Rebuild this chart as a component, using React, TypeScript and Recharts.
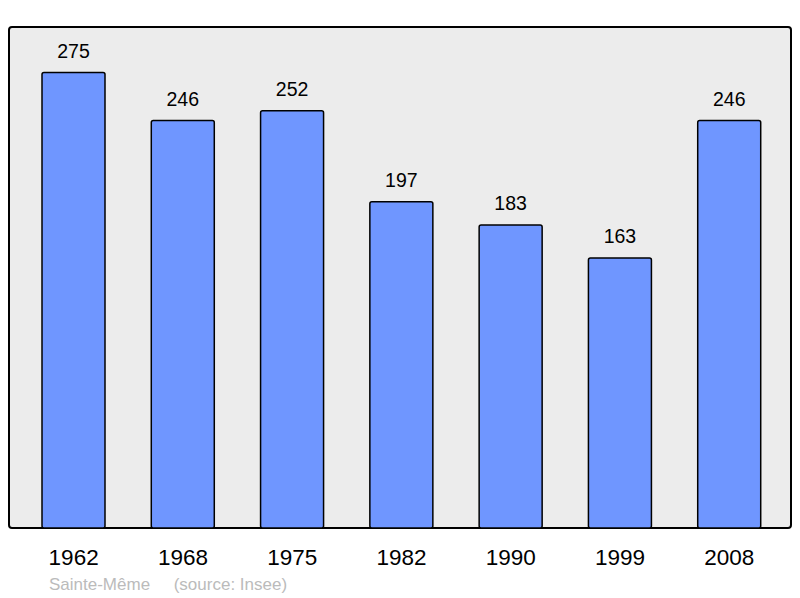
import React from 'react';
import { BarChart, Bar, XAxis, YAxis, LabelList } from 'recharts';

const years = ['1962', '1968', '1975', '1982', '1990', '1999', '2008'];
const population = [275, 246, 252, 197, 183, 163, 246];

const data = years.map((year, i) => ({ year, population: population[i] }));

const App: React.FC = () => {
  return (
    <div style={{ position: 'absolute', left: 0, top: 0, width: 800, height: 598, fontFamily: '"Liberation Sans", Arial, sans-serif' }}>
      {/* framed grey background of the plot */}
      <div
        style={{
          position: 'absolute',
          left: 8,
          top: 26,
          width: 780,
          height: 499,
          background: '#ececec',
          border: '2px solid #000',
          borderRadius: 4,
        }}
      />
      <div style={{ position: 'absolute', left: 0, top: 0 }}>
        <BarChart width={800} height={598} data={data} margin={{ top: 27, right: 9, bottom: 0, left: 9 }}>
          <XAxis
            dataKey="year"
            height={70}
            axisLine={false}
            tickLine={false}
            tickMargin={15}
            padding={{ left: 10, right: 7 }}
            tick={{ fill: '#000', fontSize: 22.5 }}
          />
          <YAxis hide domain={[0, 302.5]} />
          <Bar dataKey="population" barSize={63} fill="#6f96ff" stroke="#000" strokeWidth={1.5} radius={2} isAnimationActive={false}>
            <LabelList dataKey="population" position="top" offset={15} fill="#000" fontSize={19.5} />
          </Bar>
        </BarChart>
      </div>
      <div style={{ position: 'absolute', left: 49, top: 575, fontSize: 17, color: '#bbb', whiteSpace: 'pre' }}>
        {'Sainte-Même     (source: Insee)'}
      </div>
    </div>
  );
};

export default App;
